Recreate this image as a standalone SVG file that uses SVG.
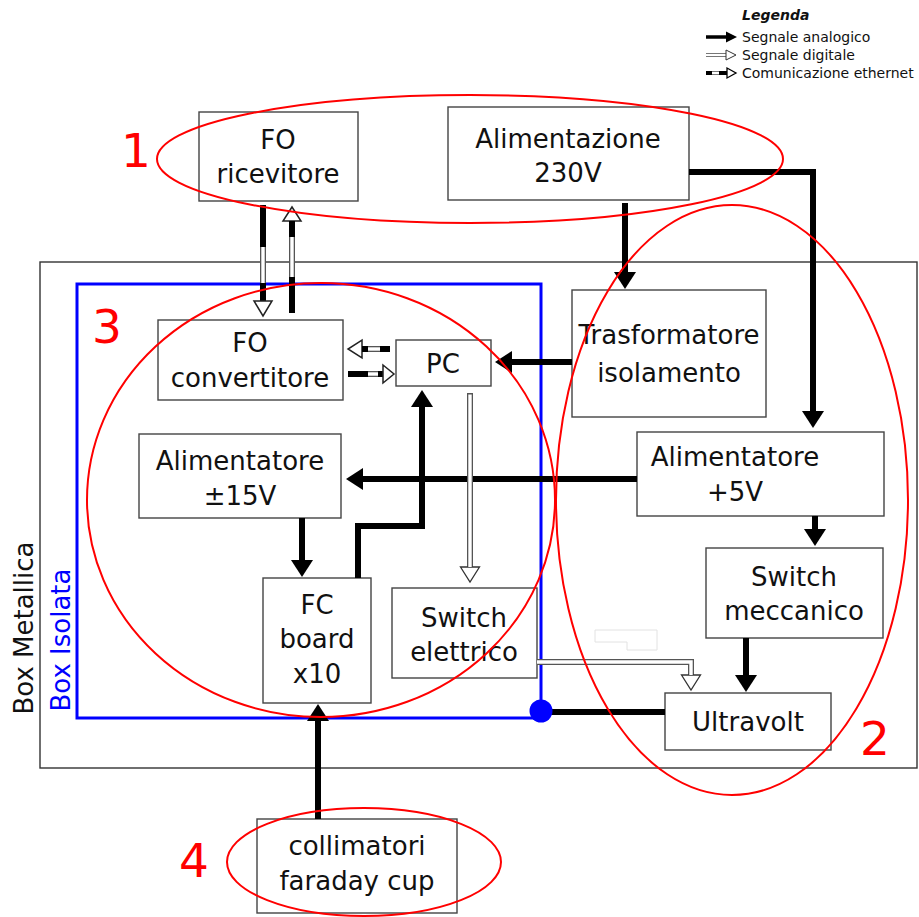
<svg xmlns="http://www.w3.org/2000/svg" width="919" height="917" viewBox="0 0 919 917">
  <style>
    .box { fill: #fff; stroke: #444; stroke-width: 1.4; }
    .t { font-family: "DejaVu Sans", Verdana, sans-serif; font-size: 26px; fill: #111; text-anchor: middle; }
    .num { font-family: "DejaVu Sans", Verdana, sans-serif; font-size: 47px; fill: #f00; text-anchor: middle; }
    .leg { font-family: "DejaVu Sans", Verdana, sans-serif; font-size: 14px; fill: #111; }
    .group { fill: none; stroke: #f00; stroke-width: 2; }
    .an { fill: none; stroke: #000; stroke-width: 6; marker-end: url(#headA); }
    .wire { fill: none; stroke: #000; stroke-width: 6; }
    .dg-o { fill: none; stroke: #555; stroke-width: 6; stroke-linejoin: miter; }
    .dg-i { fill: none; stroke: #fff; stroke-width: 3.4; stroke-linejoin: miter; }
    .eb { fill: none; stroke: #000; stroke-width: 6; }
    .hollow { fill: #fff; stroke: #222; stroke-width: 1.5; }
  </style>
  <defs>
    <marker id="headA" markerUnits="userSpaceOnUse" viewBox="0 -11 18 22" markerWidth="18" markerHeight="22" refX="0" refY="0" orient="auto">
      <path d="M0,-11 L17,0 L0,11 Z" fill="#000"/>
    </marker>
    <marker id="headD" markerUnits="userSpaceOnUse" viewBox="-1 -11 18 22" markerWidth="18" markerHeight="22" refX="0" refY="0" orient="auto">
      <path d="M0,-9.5 L15,0 L0,9.5 Z" fill="#fff" stroke="#333" stroke-width="1.3"/>
    </marker>
  </defs>

  <rect width="919" height="917" fill="#fff"/>

  <!-- enclosures -->
  <g id="box-metallica">
    <rect x="40" y="262" width="877" height="506" fill="none" stroke="#333" stroke-width="1.4"/>
    <text class="t" font-size="23" transform="translate(33,628) rotate(-90)">Box Metallica</text>
  </g>
  <g id="box-isolata">
    <rect x="77" y="284" width="464" height="434" fill="none" stroke="#00f" stroke-width="3"/>
    <text class="t" font-size="23" style="fill:#00f" transform="translate(70,640) rotate(-90)">Box Isolata</text>
  </g>

  <!-- stray outline -->
  <path d="M595,630 H657 V650 H627 V642 H595 Z" fill="none" stroke="#e2e2e2" stroke-width="1"/>

  <!-- nodes -->
  <g id="fo-ricevitore">
    <rect class="box" x="199" y="112" width="159" height="89"/>
    <text class="t" x="278" y="149">FO</text>
    <text class="t" x="278" y="183">ricevitore</text>
  </g>
  <g id="alimentazione">
    <rect class="box" x="448" y="107" width="241" height="93"/>
    <text class="t" x="568" y="148">Alimentazione</text>
    <text class="t" x="568" y="182">230V</text>
  </g>
  <g id="fo-convertitore">
    <rect class="box" x="158" y="320" width="185" height="80"/>
    <text class="t" x="250" y="352">FO</text>
    <text class="t" x="250" y="387">convertitore</text>
  </g>
  <g id="pc">
    <rect class="box" x="396" y="340" width="95" height="46"/>
    <text class="t" x="443" y="373">PC</text>
  </g>
  <g id="trasformatore">
    <rect class="box" x="572" y="290" width="194" height="127"/>
    <text class="t" font-size="24.5" x="669" y="344">Trasformatore</text>
    <text class="t" font-size="24.5" x="669" y="382">isolamento</text>
  </g>
  <g id="alimentatore-15">
    <rect class="box" x="139" y="434" width="202" height="84"/>
    <text class="t" x="240" y="470">Alimentatore</text>
    <text class="t" x="240" y="505">±15V</text>
  </g>
  <g id="alimentatore-5">
    <rect class="box" x="637" y="432" width="247" height="84"/>
    <text class="t" x="735" y="466">Alimentatore</text>
    <text class="t" x="735" y="501">+5V</text>
  </g>
  <g id="switch-meccanico">
    <rect class="box" x="706" y="548" width="177" height="90"/>
    <text class="t" x="794" y="586">Switch</text>
    <text class="t" x="794" y="620">meccanico</text>
  </g>
  <g id="fc-board">
    <rect class="box" x="263" y="578" width="108" height="125"/>
    <text class="t" x="317" y="614">FC</text>
    <text class="t" x="317" y="648">board</text>
    <text class="t" x="317" y="683">x10</text>
  </g>
  <g id="switch-elettrico">
    <rect class="box" x="392" y="588" width="145" height="90"/>
    <text class="t" x="464" y="627">Switch</text>
    <text class="t" x="464" y="661">elettrico</text>
  </g>
  <g id="ultravolt">
    <rect class="box" x="665" y="693" width="166" height="57"/>
    <text class="t" x="748" y="731">Ultravolt</text>
  </g>
  <g id="collimatori">
    <rect class="box" x="257" y="819" width="200" height="94"/>
    <text class="t" x="357" y="855">collimatori</text>
    <text class="t" x="357" y="890">faraday cup</text>
  </g>

  <!-- connectors -->
  <g id="connectors">
    <!-- analog -->
    <path class="an" d="M625,203 V272"/>
    <path class="an" d="M689,172 H813 V411"/>
    <path class="an" d="M572,362 H512"/>
    <path class="an" d="M637,479 H363"/>
    <path class="an" d="M358,578 V526 H422 V407"/>
    <path class="an" d="M815,516 V529"/>
    <path class="an" d="M746,638 V675"/>
    <path class="an" d="M302,518 V560"/>
    <path class="an" d="M318,819 V721"/>
    <path class="wire" d="M541,712 H665"/>
    <circle cx="541" cy="711" r="11.5" fill="#00f"/>

    <!-- digital -->
    <path class="dg-o" d="M470,393 V567" marker-end="url(#headD)"/>
    <path class="dg-i" d="M470,394.5 V567"/>
    <path class="dg-o" d="M537,662 H691 V675" marker-end="url(#headD)"/>
    <path class="dg-i" d="M537,662 H691 V675"/>

    <!-- ethernet: FO ricevitore -> FO convertitore -->
    <path class="eb" d="M263,205 V247"/>
    <path class="dg-o" d="M263,247 V283"/>
    <path class="dg-i" d="M263,247 V283"/>
    <path class="eb" d="M263,283 V301"/>
    <path class="hollow" d="M254,301 L272,301 L263,316 Z"/>
    <!-- ethernet: FO convertitore -> FO ricevitore -->
    <path class="hollow" d="M283,221 L301,221 L292,207 Z"/>
    <path class="eb" d="M292,221 V237"/>
    <path class="dg-o" d="M292,237 V277"/>
    <path class="dg-i" d="M292,237 V277"/>
    <path class="eb" d="M292,277 V313"/>
    <!-- ethernet: PC <-> FO convertitore -->
    <path class="hollow" d="M362,340 L362,358 L348,349 Z"/>
    <path class="eb" d="M362,349 H368"/>
    <path class="dg-o" d="M368,349 H380"/>
    <path class="dg-i" d="M368,349 H380"/>
    <path class="eb" d="M380,349 H390"/>
    <path class="eb" d="M348,374 H368"/>
    <path class="dg-o" d="M368,374 H378"/>
    <path class="dg-i" d="M368,374 H378"/>
    <path class="eb" d="M378,374 H383"/>
    <path class="hollow" d="M383,365 L383,383 L394,374 Z"/>
  </g>

  <!-- grouping ellipses -->
  <g id="groups">
    <ellipse class="group" cx="470" cy="159" rx="313" ry="64"/>
    <ellipse class="group" cx="732" cy="500" rx="176" ry="295"/>
    <ellipse class="group" cx="321" cy="500" rx="234" ry="217"/>
    <ellipse class="group" cx="364" cy="862" rx="137" ry="54"/>
    <text class="num" x="136" y="167">1</text>
    <text class="num" x="875" y="755">2</text>
    <text class="num" x="107" y="343">3</text>
    <text class="num" x="194" y="877">4</text>
  </g>

  <!-- legend -->
  <g id="legend">
    <text class="leg" x="742" y="20" font-weight="bold" font-style="italic">Legenda</text>
    <path d="M706,37 H726" stroke="#000" stroke-width="3.5"/>
    <path d="M726,31.5 L737,37 L726,42.5 Z" fill="#000"/>
    <text class="leg" x="742" y="42">Segnale analogico</text>
    <path d="M706,55 H726" stroke="#777" stroke-width="4"/>
    <path d="M706,55 H726" stroke="#fff" stroke-width="2"/>
    <path d="M726,50 L736,55 L726,60 Z" fill="#fff" stroke="#333" stroke-width="1"/>
    <text class="leg" x="742" y="60">Segnale digitale</text>
    <path d="M706,73 H712" stroke="#000" stroke-width="4"/>
    <path d="M712,73 H719" stroke="#777" stroke-width="4"/>
    <path d="M712,73 H719" stroke="#fff" stroke-width="2"/>
    <path d="M719,73 H728" stroke="#000" stroke-width="4"/>
    <path d="M727,68 L736,73 L727,78 Z" fill="#fff" stroke="#000" stroke-width="1.3"/>
    <text class="leg" x="742" y="78">Comunicazione ethernet</text>
  </g>
</svg>
